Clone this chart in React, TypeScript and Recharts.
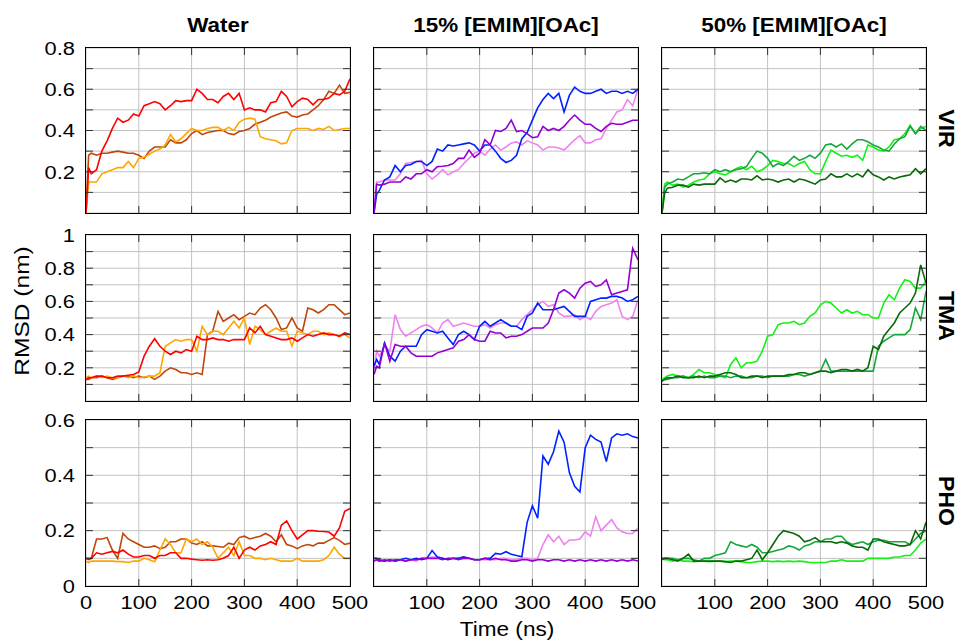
import React from "react";
import { LineChart, Line, XAxis, YAxis, CartesianGrid } from "recharts";

// time axis (ns)
const TIME = [0, 5, 10, 20, 30, 40, 50, 60, 70, 80, 90, 100,
  110, 120, 130, 140, 150, 160, 170, 180, 190, 200,
  210, 220, 230, 240, 250, 260, 270, 280, 290, 300,
  310, 320, 330, 340, 350, 360, 370, 380, 390, 400,
  410, 420, 430, 440, 450, 460, 470, 480, 490, 500];

// ---- VIR ----
const VIR_W_RED = [0.0, 0.22, 0.19, 0.21, 0.30, 0.35, 0.41, 0.46, 0.44, 0.45, 0.48, 0.47,
  0.52, 0.53, 0.54, 0.53, 0.50, 0.52, 0.545, 0.54, 0.545, 0.545,
  0.60, 0.58, 0.55, 0.55, 0.535, 0.565, 0.58, 0.55, 0.58, 0.50,
  0.51, 0.50, 0.50, 0.49, 0.535, 0.54, 0.59, 0.565, 0.515, 0.54,
  0.557, 0.55, 0.524, 0.55, 0.55, 0.557, 0.58, 0.573, 0.59, 0.65];
const VIR_W_BROWN = [0.0, 0.28, 0.29, 0.28, 0.29, 0.29, 0.295, 0.30, 0.295, 0.29, 0.29, 0.28,
  0.265, 0.30, 0.32, 0.32, 0.32, 0.355, 0.34, 0.34, 0.355, 0.385,
  0.40, 0.38, 0.39, 0.395, 0.40, 0.40, 0.385, 0.38, 0.395, 0.40,
  0.41, 0.43, 0.44, 0.45, 0.465, 0.475, 0.485, 0.49, 0.47, 0.465,
  0.475, 0.48, 0.50, 0.52, 0.55, 0.59, 0.58, 0.62, 0.58, 0.585];
const VIR_W_ORANGE = [0.0, 0.15, 0.15, 0.15, 0.19, 0.20, 0.21, 0.22, 0.22, 0.25, 0.22, 0.265,
  0.27, 0.285, 0.30, 0.31, 0.33, 0.38, 0.345, 0.36, 0.385, 0.41,
  0.40, 0.40, 0.41, 0.415, 0.415, 0.40, 0.415, 0.40, 0.44, 0.455,
  0.46, 0.455, 0.37, 0.36, 0.355, 0.35, 0.335, 0.34, 0.40, 0.41,
  0.41, 0.41, 0.40, 0.41, 0.405, 0.42, 0.40, 0.405, 0.41, 0.41];

const VIR_15_BLUE = [0.0, 0.09, 0.11, 0.16, 0.175, 0.23, 0.20, 0.23, 0.235, 0.25, 0.25, 0.23,
  0.25, 0.31, 0.30, 0.33, 0.325, 0.33, 0.335, 0.34, 0.33, 0.30,
  0.33, 0.33, 0.30, 0.265, 0.245, 0.255, 0.28, 0.36, 0.39, 0.45,
  0.51, 0.55, 0.58, 0.555, 0.58, 0.49, 0.57, 0.61, 0.59, 0.58,
  0.58, 0.59, 0.60, 0.58, 0.59, 0.59, 0.58, 0.59, 0.58, 0.60];
const VIR_15_PURPLE = [0.0, 0.14, 0.135, 0.14, 0.15, 0.15, 0.15, 0.175, 0.165, 0.19, 0.19, 0.21,
  0.20, 0.225, 0.227, 0.23, 0.24, 0.265, 0.265, 0.305, 0.27, 0.29,
  0.355, 0.33, 0.40, 0.395, 0.41, 0.45, 0.395, 0.40, 0.385, 0.365,
  0.37, 0.42, 0.40, 0.41, 0.40, 0.42, 0.45, 0.475, 0.45, 0.43,
  0.43, 0.41, 0.395, 0.42, 0.435, 0.43, 0.43, 0.44, 0.45, 0.45];
const VIR_15_VIOLET = [0.02, 0.15, 0.15, 0.16, 0.16, 0.16, 0.19, 0.24, 0.245, 0.25, 0.255, 0.19,
  0.165, 0.185, 0.21, 0.185, 0.20, 0.21, 0.24, 0.265, 0.29, 0.30,
  0.28, 0.31, 0.33, 0.305, 0.32, 0.34, 0.345, 0.33, 0.35, 0.34,
  0.33, 0.305, 0.32, 0.32, 0.315, 0.305, 0.33, 0.355, 0.375, 0.34,
  0.34, 0.355, 0.36, 0.41, 0.45, 0.49, 0.50, 0.55, 0.52, 0.60];

const VIR_50_DARK = [0.0, 0.095, 0.12, 0.125, 0.135, 0.135, 0.125, 0.14, 0.135, 0.14, 0.14, 0.14,
  0.17, 0.15, 0.16, 0.15, 0.165, 0.165, 0.16, 0.18, 0.16, 0.165,
  0.16, 0.15, 0.16, 0.165, 0.15, 0.165, 0.16, 0.15, 0.14, 0.16,
  0.165, 0.19, 0.175, 0.175, 0.19, 0.175, 0.19, 0.175, 0.21, 0.185,
  0.175, 0.16, 0.175, 0.165, 0.175, 0.18, 0.185, 0.215, 0.19, 0.215];
const VIR_50_MED = [0.0, 0.125, 0.14, 0.15, 0.165, 0.16, 0.175, 0.19, 0.19, 0.195, 0.19, 0.21,
  0.20, 0.21, 0.20, 0.21, 0.215, 0.225, 0.265, 0.30, 0.29, 0.265,
  0.225, 0.24, 0.23, 0.25, 0.275, 0.255, 0.265, 0.28, 0.265, 0.29,
  0.33, 0.335, 0.32, 0.335, 0.31, 0.335, 0.355, 0.355, 0.345, 0.33,
  0.32, 0.305, 0.30, 0.335, 0.36, 0.37, 0.42, 0.385, 0.42, 0.40];
const VIR_50_LIME = [0.0, 0.14, 0.15, 0.135, 0.14, 0.125, 0.135, 0.15, 0.16, 0.165, 0.19, 0.20,
  0.19, 0.185, 0.20, 0.215, 0.225, 0.21, 0.227, 0.20, 0.21, 0.23,
  0.255, 0.25, 0.24, 0.24, 0.225, 0.24, 0.25, 0.21, 0.19, 0.19,
  0.25, 0.305, 0.29, 0.275, 0.28, 0.27, 0.28, 0.255, 0.33, 0.32,
  0.305, 0.30, 0.32, 0.355, 0.36, 0.385, 0.425, 0.385, 0.41, 0.42];

// ---- TMA ----
const TMA_W_RED = [0.13, 0.14, 0.14, 0.15, 0.15, 0.14, 0.14, 0.15, 0.15, 0.155, 0.16, 0.175,
  0.27, 0.33, 0.375, 0.33, 0.30, 0.28, 0.30, 0.29, 0.31, 0.30,
  0.39, 0.37, 0.37, 0.38, 0.37, 0.37, 0.36, 0.37, 0.37, 0.37,
  0.44, 0.41, 0.45, 0.40, 0.39, 0.38, 0.37, 0.37, 0.38, 0.36,
  0.38, 0.40, 0.39, 0.40, 0.41, 0.40, 0.40, 0.39, 0.41, 0.40];
const TMA_W_BROWN = [0.13, 0.13, 0.14, 0.14, 0.15, 0.14, 0.13, 0.14, 0.15, 0.15, 0.14, 0.15,
  0.14, 0.15, 0.13, 0.15, 0.18, 0.20, 0.19, 0.17, 0.17, 0.16,
  0.17, 0.16, 0.40, 0.42, 0.54, 0.48, 0.50, 0.52, 0.49, 0.51,
  0.53, 0.52, 0.56, 0.58, 0.55, 0.50, 0.43, 0.44, 0.50, 0.44,
  0.42, 0.56, 0.55, 0.53, 0.55, 0.58, 0.58, 0.55, 0.52, 0.53];
const TMA_W_ORANGE = [0.14, 0.15, 0.14, 0.15, 0.14, 0.15, 0.14, 0.14, 0.15, 0.14, 0.15, 0.14,
  0.145, 0.15, 0.15, 0.17, 0.33, 0.35, 0.37, 0.36, 0.37, 0.37,
  0.30, 0.45, 0.40, 0.42, 0.42, 0.40, 0.44, 0.48, 0.44, 0.50,
  0.34, 0.45, 0.43, 0.40, 0.42, 0.44, 0.42, 0.42, 0.33, 0.42,
  0.41, 0.40, 0.42, 0.42, 0.40, 0.41, 0.40, 0.39, 0.40, 0.38];

const TMA_15_BLUE = [0.21, 0.25, 0.22, 0.35, 0.27, 0.24, 0.30, 0.33, 0.33, 0.33, 0.40, 0.43,
  0.42, 0.41, 0.42, 0.38, 0.34, 0.40, 0.42, 0.40, 0.37, 0.45,
  0.48, 0.45, 0.47, 0.49, 0.47, 0.45, 0.45, 0.43, 0.51, 0.53,
  0.59, 0.55, 0.55, 0.55, 0.56, 0.57, 0.54, 0.51, 0.51, 0.51,
  0.60, 0.61, 0.62, 0.62, 0.63, 0.63, 0.62, 0.60, 0.61, 0.63];
const TMA_15_PURPLE = [0.16, 0.21, 0.20, 0.35, 0.24, 0.34, 0.33, 0.33, 0.29, 0.27, 0.27, 0.27,
  0.27, 0.29, 0.30, 0.31, 0.32, 0.36, 0.37, 0.40, 0.37, 0.36,
  0.36, 0.42, 0.41, 0.41, 0.38, 0.39, 0.39, 0.40, 0.42, 0.44,
  0.44, 0.44, 0.47, 0.55, 0.65, 0.67, 0.65, 0.62, 0.68, 0.71,
  0.72, 0.69, 0.70, 0.73, 0.64, 0.65, 0.66, 0.67, 0.92, 0.85];
const TMA_15_VIOLET = [0.18, 0.30, 0.27, 0.33, 0.30, 0.52, 0.43, 0.39, 0.41, 0.43, 0.45, 0.46,
  0.44, 0.41, 0.47, 0.49, 0.45, 0.46, 0.47, 0.46, 0.45, 0.45,
  0.46, 0.44, 0.46, 0.47, 0.47, 0.45, 0.45, 0.49, 0.52, 0.55,
  0.58, 0.60, 0.57, 0.58, 0.53, 0.51, 0.51, 0.52, 0.49, 0.51,
  0.49, 0.54, 0.57, 0.58, 0.59, 0.61, 0.51, 0.49, 0.51, 0.61];

const TMA_50_DARK = [0.12, 0.13, 0.14, 0.14, 0.15, 0.14, 0.14, 0.14, 0.15, 0.14, 0.15, 0.15,
  0.16, 0.17, 0.17, 0.16, 0.14, 0.14, 0.15, 0.15, 0.14, 0.15,
  0.15, 0.15, 0.15, 0.16, 0.16, 0.17, 0.17, 0.16, 0.17, 0.18,
  0.18, 0.17, 0.18, 0.19, 0.19, 0.18, 0.19, 0.18, 0.20, 0.33,
  0.31, 0.39, 0.43, 0.47, 0.53, 0.56, 0.59, 0.65, 0.82, 0.71];
const TMA_50_MED = [0.12, 0.13, 0.13, 0.14, 0.14, 0.15, 0.14, 0.15, 0.14, 0.15, 0.14, 0.14,
  0.15, 0.15, 0.14, 0.15, 0.15, 0.14, 0.14, 0.15, 0.15, 0.14,
  0.15, 0.15, 0.15, 0.15, 0.16, 0.16, 0.15, 0.16, 0.17, 0.18,
  0.25, 0.18, 0.18, 0.18, 0.18, 0.18, 0.18, 0.18, 0.18, 0.18,
  0.33, 0.36, 0.38, 0.40, 0.40, 0.40, 0.43, 0.56, 0.49, 0.66];
const TMA_50_LIME = [0.13, 0.14, 0.15, 0.16, 0.15, 0.15, 0.14, 0.16, 0.19, 0.17, 0.17, 0.16,
  0.15, 0.14, 0.22, 0.26, 0.20, 0.23, 0.23, 0.24, 0.30, 0.39,
  0.40, 0.46, 0.47, 0.47, 0.48, 0.46, 0.47, 0.51, 0.53, 0.58,
  0.60, 0.59, 0.56, 0.53, 0.55, 0.53, 0.54, 0.52, 0.52, 0.50,
  0.50, 0.59, 0.64, 0.61, 0.68, 0.73, 0.72, 0.68, 0.68, 0.72];

// ---- PHO ----
const PHO_W_RED = [0.10, 0.095, 0.10, 0.12, 0.115, 0.12, 0.125, 0.12, 0.13, 0.115, 0.105, 0.105,
  0.11, 0.11, 0.10, 0.11, 0.11, 0.12, 0.12, 0.10, 0.10, 0.097,
  0.095, 0.093, 0.095, 0.093, 0.095, 0.10, 0.11, 0.14, 0.10, 0.13,
  0.14, 0.13, 0.145, 0.15, 0.16, 0.15, 0.22, 0.235, 0.20, 0.17,
  0.185, 0.20, 0.20, 0.198, 0.197, 0.195, 0.18, 0.21, 0.27, 0.28];
const PHO_W_BROWN = [0.10, 0.10, 0.10, 0.17, 0.17, 0.175, 0.13, 0.10, 0.19, 0.17, 0.16, 0.15,
  0.14, 0.14, 0.145, 0.135, 0.14, 0.16, 0.16, 0.17, 0.17, 0.155,
  0.15, 0.16, 0.145, 0.145, 0.143, 0.14, 0.155, 0.15, 0.175, 0.18,
  0.17, 0.175, 0.18, 0.19, 0.18, 0.16, 0.185, 0.15, 0.145, 0.135,
  0.145, 0.15, 0.145, 0.155, 0.155, 0.165, 0.175, 0.165, 0.15, 0.155];
const PHO_W_ORANGE = [0.09, 0.085, 0.09, 0.09, 0.09, 0.09, 0.09, 0.088, 0.088, 0.085, 0.09, 0.09,
  0.10, 0.095, 0.088, 0.13, 0.17, 0.15, 0.12, 0.12, 0.17, 0.16,
  0.17, 0.15, 0.16, 0.14, 0.10, 0.12, 0.14, 0.11, 0.16, 0.11,
  0.11, 0.10, 0.10, 0.095, 0.10, 0.095, 0.09, 0.09, 0.09, 0.10,
  0.09, 0.09, 0.09, 0.09, 0.095, 0.11, 0.14, 0.115, 0.10, 0.10];

const PHO_15_BLUE = [0.10, 0.10, 0.095, 0.09, 0.095, 0.09, 0.095, 0.10, 0.095, 0.10, 0.095, 0.10,
  0.128, 0.105, 0.10, 0.095, 0.10, 0.10, 0.105, 0.10, 0.095, 0.095,
  0.10, 0.10, 0.118, 0.115, 0.124, 0.115, 0.11, 0.106, 0.23, 0.29,
  0.245, 0.47, 0.44, 0.485, 0.56, 0.52, 0.41, 0.36, 0.34, 0.50,
  0.545, 0.53, 0.52, 0.45, 0.535, 0.55, 0.545, 0.55, 0.54, 0.535];
const PHO_15_PURPLE = [0.09, 0.095, 0.09, 0.095, 0.09, 0.095, 0.095, 0.09, 0.095, 0.095, 0.10, 0.10,
  0.10, 0.10, 0.095, 0.10, 0.10, 0.095, 0.10, 0.10, 0.095, 0.095,
  0.10, 0.095, 0.10, 0.095, 0.095, 0.09, 0.09, 0.095, 0.095, 0.09,
  0.095, 0.095, 0.09, 0.095, 0.095, 0.09, 0.095, 0.09, 0.095, 0.09,
  0.095, 0.09, 0.095, 0.09, 0.095, 0.09, 0.095, 0.09, 0.095, 0.09];
const PHO_15_VIOLET = [0.09, 0.095, 0.09, 0.09, 0.095, 0.09, 0.095, 0.09, 0.095, 0.09, 0.10, 0.10,
  0.105, 0.105, 0.10, 0.095, 0.10, 0.10, 0.10, 0.10, 0.095, 0.095,
  0.095, 0.095, 0.095, 0.10, 0.10, 0.095, 0.095, 0.10, 0.10, 0.095,
  0.10, 0.15, 0.185, 0.16, 0.18, 0.15, 0.166, 0.166, 0.17, 0.196,
  0.18, 0.25, 0.20, 0.22, 0.24, 0.21, 0.196, 0.19, 0.19, 0.21];

const PHO_50_DARK = [0.095, 0.10, 0.10, 0.095, 0.09, 0.10, 0.115, 0.09, 0.09, 0.09, 0.09, 0.09,
  0.09, 0.088, 0.085, 0.09, 0.09, 0.095, 0.10, 0.13, 0.095, 0.12,
  0.15, 0.18, 0.20, 0.195, 0.19, 0.18, 0.16, 0.165, 0.175, 0.16,
  0.16, 0.16, 0.155, 0.16, 0.155, 0.145, 0.14, 0.14, 0.13, 0.17,
  0.17, 0.16, 0.155, 0.15, 0.145, 0.145, 0.15, 0.20, 0.17, 0.23];
const PHO_50_MED = [0.10, 0.10, 0.10, 0.10, 0.095, 0.10, 0.10, 0.095, 0.09, 0.10, 0.10, 0.11,
  0.115, 0.12, 0.16, 0.15, 0.145, 0.14, 0.15, 0.14, 0.12, 0.12,
  0.125, 0.13, 0.135, 0.145, 0.14, 0.13, 0.145, 0.15, 0.16, 0.16,
  0.17, 0.17, 0.18, 0.18, 0.16, 0.15, 0.155, 0.16, 0.15, 0.16,
  0.165, 0.165, 0.16, 0.16, 0.16, 0.16, 0.15, 0.17, 0.19, 0.20];
const PHO_50_LIME = [0.10, 0.095, 0.095, 0.09, 0.095, 0.09, 0.09, 0.088, 0.09, 0.09, 0.088, 0.09,
  0.09, 0.088, 0.09, 0.09, 0.088, 0.085, 0.085, 0.088, 0.09, 0.09,
  0.088, 0.09, 0.088, 0.09, 0.088, 0.09, 0.088, 0.085, 0.085, 0.085,
  0.085, 0.09, 0.09, 0.095, 0.09, 0.09, 0.09, 0.09, 0.10, 0.10,
  0.10, 0.10, 0.10, 0.105, 0.105, 0.11, 0.11, 0.13, 0.155, 0.17];

const COLUMN_TITLES = ["Water", "15% [EMIM][OAc]", "50% [EMIM][OAc]"];
const ROW_TITLES = ["VIR", "TMA", "PHO"];

const X_TICKS = [0, 100, 200, 300, 400, 500];
const X_LABELS_FIRST = [0, 100, 200, 300, 400, 500];
const X_LABELS_REST = [100, 200, 300, 400, 500];

const Y_TICKS = [
  [0, 0.1, 0.2, 0.3, 0.4, 0.5, 0.6, 0.7, 0.8],
  [0, 0.1, 0.2, 0.3, 0.4, 0.5, 0.6, 0.7, 0.8, 0.9, 1],
  [0, 0.1, 0.2, 0.3, 0.4, 0.5, 0.6],
];
const Y_LABELS = [
  [0.2, 0.4, 0.6, 0.8],
  [0.2, 0.4, 0.6, 0.8, 1],
  [0, 0.2, 0.4, 0.6],
];
const Y_MAX = [0.8, 1, 0.6];

const RED = "#ff0000", BROWN = "#c0460a", ORANGE = "#ffa500";
const BLUE = "#0022ff", PURPLE = "#9400d3", VIOLET = "#ee82ee";
const LIME = "#14f014", MED = "#14a83c", DARK = "#0a6a0a";

// series per [row][col], drawn in order (last on top)
const PANELS = [
  [
    [{ v: VIR_W_BROWN, c: BROWN }, { v: VIR_W_ORANGE, c: ORANGE }, { v: VIR_W_RED, c: RED }],
    [{ v: VIR_15_VIOLET, c: VIOLET }, { v: VIR_15_BLUE, c: BLUE }, { v: VIR_15_PURPLE, c: PURPLE }],
    [{ v: VIR_50_LIME, c: LIME }, { v: VIR_50_MED, c: MED }, { v: VIR_50_DARK, c: DARK }],
  ],
  [
    [{ v: TMA_W_BROWN, c: BROWN }, { v: TMA_W_ORANGE, c: ORANGE }, { v: TMA_W_RED, c: RED }],
    [{ v: TMA_15_VIOLET, c: VIOLET }, { v: TMA_15_BLUE, c: BLUE }, { v: TMA_15_PURPLE, c: PURPLE }],
    [{ v: TMA_50_LIME, c: LIME }, { v: TMA_50_MED, c: MED }, { v: TMA_50_DARK, c: DARK }],
  ],
  [
    [{ v: PHO_W_BROWN, c: BROWN }, { v: PHO_W_ORANGE, c: ORANGE }, { v: PHO_W_RED, c: RED }],
    [{ v: PHO_15_VIOLET, c: VIOLET }, { v: PHO_15_BLUE, c: BLUE }, { v: PHO_15_PURPLE, c: PURPLE }],
    [{ v: PHO_50_LIME, c: LIME }, { v: PHO_50_MED, c: MED }, { v: PHO_50_DARK, c: DARK }],
  ],
];

// layout (page px)
const COL_LEFT = [86, 374, 662];
const ROW_TOP = [48, 235, 420];
const ROW_H = [165, 166, 166];
const PW = 264;
const L = 60, T = 10, R = 30, B = 40;
const FONT = "'Liberation Sans', Arial, Helvetica, sans-serif";

function fmt(v: number) {
  return v === 0 ? "0" : v === 1 ? "1" : String(v);
}

function XTick(props: any) {
  const { x, y, payload, labels, ph } = props;
  const v = payload.value;
  const edge = v === 0 || v === 500;
  return (
    <g>
      {!edge && <line x1={x} x2={x} y1={y} y2={y - 7} stroke="#333" strokeWidth={1} />}
      {!edge && <line x1={x} x2={x} y1={y - ph} y2={y - ph + 7} stroke="#333" strokeWidth={1} />}
      {labels.includes(v) && (
        <text transform={`translate(${x},${y + 23}) scale(1.15,1)`} textAnchor="middle"
          fontFamily={FONT} fontSize={19} fill="#000">{fmt(v)}</text>
      )}
    </g>
  );
}

function YTick(props: any) {
  const { x, y, payload, labels, ymax } = props;
  const v = payload.value;
  const edge = v === 0 || v === ymax;
  return (
    <g>
      {!edge && <line x1={x} x2={x + 7} y1={y} y2={y} stroke="#333" strokeWidth={1} />}
      {!edge && <line x1={x + PW - 7} x2={x + PW} y1={y} y2={y} stroke="#333" strokeWidth={1} />}
      {labels.includes(v) && (
        <text transform={`translate(${x - 11},${y + 6.8}) scale(1.15,1)`} textAnchor="end"
          fontFamily={FONT} fontSize={19} fill="#000">{fmt(v)}</text>
      )}
    </g>
  );
}

function Panel({ row, col }: { row: number; col: number }) {
  const series = PANELS[row][col];
  const ph = ROW_H[row];
  const data = TIME.map((t, i) => {
    const d: any = { t };
    series.forEach((s, k) => { d["s" + k] = s.v[i]; });
    return d;
  });
  const xLabels = row === 2 ? (col === 0 ? X_LABELS_FIRST : X_LABELS_REST) : [];
  const yLabels = col === 0 ? Y_LABELS[row] : [];
  const ymax = Y_MAX[row];
  return (
    <div style={{ position: "absolute", left: COL_LEFT[col] - L, top: ROW_TOP[row] - T }}>
      <LineChart width={PW + L + R} height={ph + T + B} data={data}
        margin={{ top: T, right: R, bottom: 0, left: 0 }}>
        <CartesianGrid stroke="#c2c2c2" strokeWidth={1} />
        <XAxis dataKey="t" type="number" domain={[0, 500]} ticks={X_TICKS} interval={0}
          height={B} tickSize={0} tickMargin={0} axisLine={false}
          tick={(p: any) => <XTick {...p} labels={xLabels} ph={ph} />} />
        <YAxis type="number" domain={[0, ymax]} ticks={Y_TICKS[row]} interval={0}
          width={L} tickSize={0} tickMargin={0} axisLine={false}
          tick={(p: any) => <YTick {...p} labels={yLabels} ymax={ymax} />} />
        {series.map((s, k) => (
          <Line key={k} dataKey={"s" + k} type="linear" stroke={s.c} strokeWidth={1.6}
            dot={false} activeDot={false} isAnimationActive={false} />
        ))}
      </LineChart>
      <div style={{ position: "absolute", left: L - 1, top: T - 1, width: PW, height: ph,
        border: "1px solid #000", pointerEvents: "none" }} />
    </div>
  );
}

export default function App() {
  const colCenters = COL_LEFT.map((l) => l + PW / 2);
  const rowCenters = ROW_TOP.map((t, i) => t + ROW_H[i] / 2);
  return (
    <div style={{ position: "absolute", left: 0, top: 0, width: 959, height: 642, background: "#fff" }}>
      {[0, 1, 2].map((r) => [0, 1, 2].map((c) => <Panel key={r + "-" + c} row={r} col={c} />))}
      <svg width={959} height={642} style={{ position: "absolute", left: 0, top: 0, pointerEvents: "none" }}>
        {COLUMN_TITLES.map((t, i) => (
          <text key={t} transform={`translate(${colCenters[i]},32) scale(1.15,1)`} textAnchor="middle"
            fontFamily={FONT} fontWeight={700} fontSize={19.5} fill="#000">{t}</text>
        ))}
        {ROW_TITLES.map((t, i) => (
          <text key={t} transform={`translate(939,${rowCenters[i] - 2}) rotate(90) scale(1.05,1)`} textAnchor="middle"
            fontFamily={FONT} fontWeight={700} fontSize={22} fill="#000">{t}</text>
        ))}
        <text transform="translate(29,311) rotate(-90) scale(1.17,1)" textAnchor="middle"
          fontFamily={FONT} fontSize={21} fill="#000">RMSD (nm)</text>
        <text transform="translate(507,636) scale(1.13,1)" textAnchor="middle"
          fontFamily={FONT} fontSize={20} fill="#000">Time (ns)</text>
      </svg>
    </div>
  );
}
